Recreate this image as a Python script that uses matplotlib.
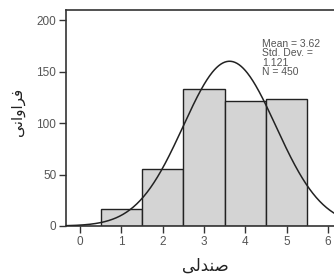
import numpy as np
import matplotlib
matplotlib.use("Agg")
import matplotlib.pyplot as plt

# data
bin_centers = [1, 2, 3, 4, 5]
counts = [17, 55, 133, 122, 123]
x_ticks = [0, 1, 2, 3, 4, 5, 6]
y_ticks = [0, 50, 100, 150, 200]
stats_text = "Mean = 3.62\nStd. Dev. =\n1.121\nN = 450"
# Persian labels in presentation forms (visual order)
xlabel = "\uFBFD\uFEDF\uFEAA\uFEE8\uFEBB"          # صندلی
ylabel = "\uFBFD\uFEE7\uFE8D\uFEED\uFE8D\uFEAE\uFED3"  # فراوانی

vals = np.repeat(bin_centers, counts)
mean = vals.mean()
sd = vals.std(ddof=1)
n = len(vals)

fig = plt.figure(figsize=(3.34, 2.8), dpi=100)
W, H = 334, 280
x0, x1 = -0.34, 6.3
left_px, right_px = 66, 66 + (x1 - x0) * 41.3
top_px, bot_px = 10, 226
ax = fig.add_axes([left_px / W, 1 - bot_px / H, (right_px - left_px) / W, (bot_px - top_px) / H])

ax.bar(bin_centers, counts, width=1.0, color="#d4d4d4", edgecolor="#222222", linewidth=1.0, zorder=2)
xs = np.linspace(x0, x1, 400)
pdf = n * np.exp(-0.5 * ((xs - mean) / sd) ** 2) / (sd * np.sqrt(2 * np.pi))
ax.plot(xs, pdf, color="#222222", linewidth=1.1, zorder=3)

ax.set_xlim(x0, x1)
ax.set_ylim(0, 210)
ax.set_xticks(x_ticks)
ax.set_yticks(y_ticks)
ax.tick_params(direction="out", length=5, width=1, colors="#333333", labelsize=8.5,
               labelcolor="#555555", pad=2)
for lab in ax.get_xticklabels() + ax.get_yticklabels():
    lab.set_family("Liberation Sans")
for s in ax.spines.values():
    s.set_color("#333333")
    s.set_linewidth(1.2)

ax.text(0.715, 0.866, stats_text, transform=ax.transAxes, ha="left", va="top",
        fontsize=7.5, color="#555555", family="Liberation Sans", linespacing=0.93)

fig.text(205 / W, 1 - 266 / H, xlabel, ha="center", va="center", fontsize=12,
         family="DejaVu Sans", color="#222222")
fig.text(17 / W, 1 - 112 / H, ylabel, ha="center", va="center", fontsize=11,
         rotation=90, family="DejaVu Sans", color="#222222")

fig.savefig("out.png", dpi=100)
